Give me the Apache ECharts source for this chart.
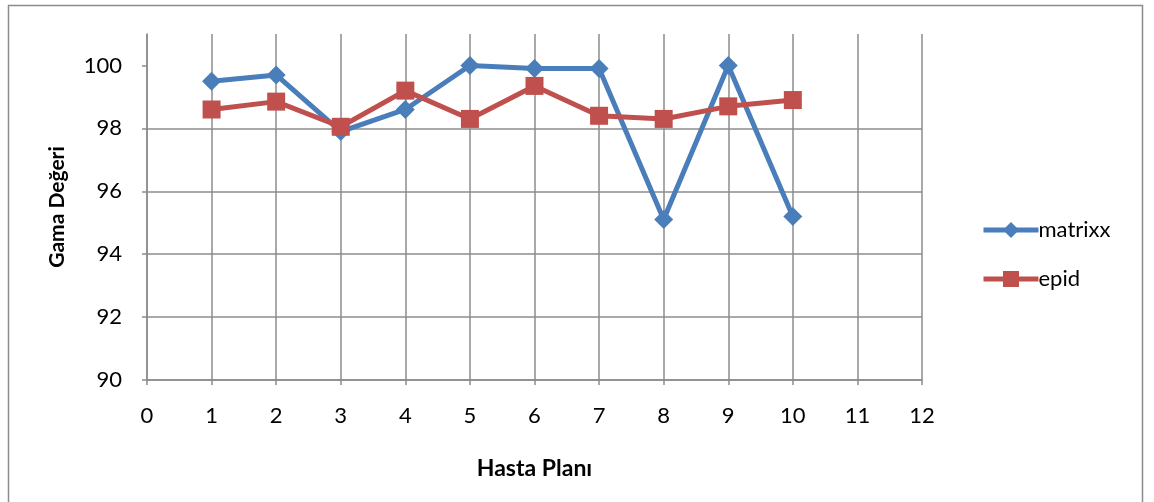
<!DOCTYPE html>
<html>
<head>
<meta charset="utf-8">
<script src="https://cdn.jsdelivr.net/npm/echarts@6/dist/echarts.min.js"></script>
<style>
  html, body { margin: 0; padding: 0; background: #fff; }
  #chart { width: 1154px; height: 502px; }
</style>
</head>
<body>
<div id="chart"></div>
<script>
// Hasta planı numaraları ve gama değerleri
const plans = [1, 2, 3, 4, 5, 6, 7, 8, 9, 10];
const matrixx = [99.5, 99.7, 97.9, 98.6, 100, 99.9, 99.9, 95.1, 100, 95.2];
const epid = [98.6, 98.85, 98.05, 99.2, 98.3, 99.35, 98.4, 98.3, 98.7, 98.9];
const yTicks = [90, 92, 94, 96, 98, 100];

const FONT = 'Lato, "Open Sans", "Liberation Sans", sans-serif';
const GRID_COLOR = '#8c8c8c';
const BLUE = '#4A7EBB';
const RED = '#C0504D';

const pairs = (vals) => plans.map((p, i) => [p, vals[i]]);

const chart = echarts.init(document.getElementById('chart'), null, { renderer: 'canvas' });

chart.setOption({
  backgroundColor: '#fff',
  animation: false,
  graphic: [{
    type: 'rect',
    shape: { x: 8.5, y: 5.5, width: 1134, height: 510 },
    style: { fill: 'none', stroke: '#8c8c8c', lineWidth: 1.5 },
    silent: true
  }],
  grid: { left: 147, right: 232, top: 34, bottom: 122 },
  legend: {
    orient: 'vertical',
    left: 976,
    top: 214,
    itemWidth: 55,
    itemHeight: 20,
    itemGap: 27,
    lineStyle: { width: 5 },
    textStyle: { fontFamily: FONT, fontSize: 22, color: '#000', padding: [0, 0, 0, -5] },
    data: ['matrixx', 'epid']
  },
  xAxis: {
    type: 'value',
    min: 0,
    max: 12,
    interval: 1,
    name: 'Hasta Planı',
    nameLocation: 'middle',
    nameGap: 77,
    nameTextStyle: { fontFamily: FONT, fontSize: 23, fontWeight: 'bold', color: '#000' },
    axisLine: { show: true, onZero: false, lineStyle: { color: GRID_COLOR, width: 1.5 } },
    axisTick: { show: true, length: 5, lineStyle: { color: GRID_COLOR, width: 1.5 } },
    axisLabel: { fontFamily: FONT, fontSize: 22, color: '#000', margin: 25 },
    splitLine: { show: true, lineStyle: { color: GRID_COLOR, width: 1.5 } }
  },
  yAxis: {
    type: 'value',
    min: 90,
    max: 101,
    interval: 2,
    name: 'Gama Değeri',
    nameLocation: 'middle',
    nameGap: 79,
    nameTextStyle: { fontFamily: FONT, fontSize: 21, fontWeight: 'bold', color: '#000' },
    axisLine: { show: true, lineStyle: { color: GRID_COLOR, width: 1.5 } },
    axisTick: { show: true, length: 5, customValues: yTicks, lineStyle: { color: GRID_COLOR, width: 1.5 } },
    axisLabel: { fontFamily: FONT, fontSize: 22, color: '#000', margin: 25, customValues: yTicks },
    splitLine: { show: true, showMaxLine: false, lineStyle: { color: GRID_COLOR, width: 1.5 } }
  },
  series: [
    {
      name: 'matrixx',
      type: 'line',
      data: pairs(matrixx),
      symbol: 'diamond',
      symbolSize: 19,
      color: BLUE,
      lineStyle: { color: BLUE, width: 5 },
      itemStyle: { color: BLUE },
      z: 2
    },
    {
      name: 'epid',
      type: 'line',
      data: pairs(epid),
      symbol: 'rect',
      symbolSize: 18,
      color: RED,
      lineStyle: { color: RED, width: 5 },
      itemStyle: { color: RED },
      z: 3
    }
  ]
});
</script>
</body>
</html>
